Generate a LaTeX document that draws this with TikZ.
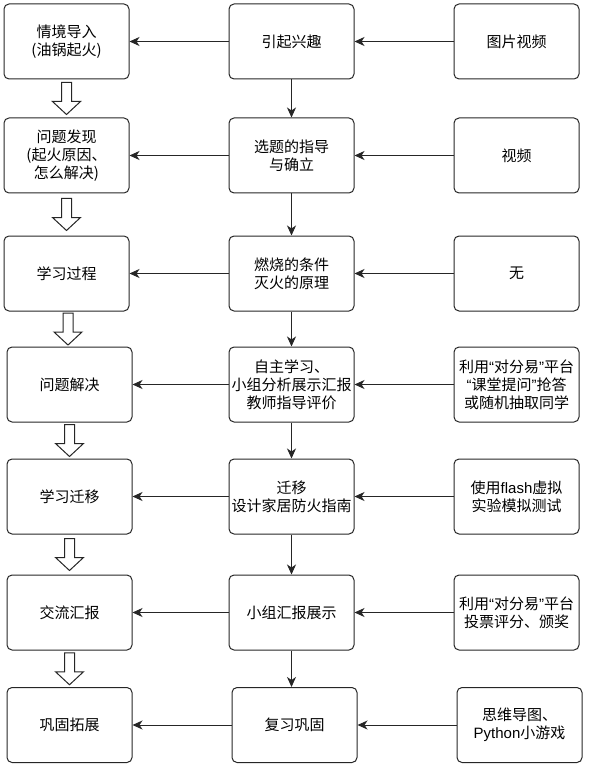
\documentclass[tikz,border=0pt]{standalone}
\usepackage{fontspec}
\setmainfont{Noto Sans CJK SC}
\newfontfamily\latin{Liberation Sans}
\usepackage{tikz}
\usetikzlibrary{calc, arrows.meta, positioning}

\begin{document}
\begin{tikzpicture}[
        x=1pt, y=-1pt,
        box/.style={rectangle, draw=black!85, line width=1pt, rounded corners=5pt, minimum height=75pt, minimum width=125pt, font=\fontsize{15}{18}\selectfont, align=center, inner sep=1pt},
        arrow/.style={-{Stealth[length=10pt, width=9pt, inset=3pt]}, line width=1pt, draw=black!85},
        blockarrow/.style={draw=black!85, line width=1pt, fill=white, line join=miter}
    ]
        \useasboundingbox (0,0) rectangle (589,767);

        % Left column
        \node[box] (intro) at (66.5,41.5) {情境导入\\(油锅起火)};
        \node[box] (discover) at (66.5,155.5) {问题发现\\(起火原因、\\怎么解决)};
        \node[box] (process) at (66.5,273.5) {学习过程};
        \node[box] (solve) at (69.5,384.5) {问题解决};
        \node[box] (transfer) at (69.5,496.5) {学习迁移};
        \node[box] (report) at (69.5,612.5) {交流汇报};
        \node[box] (extend) at (69.5,725) {巩固拓展};

        % Middle column
        \node[box] (interest) at (291.5,41.5) {引起兴趣};
        \node[box] (topic) at (291.5,155.5) {选题的指导\\与确立};
        \node[box] (theory) at (291.5,273.5) {燃烧的条件\\灭火的原理};
        \node[box] (explore) at (291.5,384.5) {自主学习、\\小组分析展示汇报\\教师指导评价};
        \node[box] (design) at (291.5,496.5) {迁移\\设计家居防火指南};
        \node[box] (present) at (291.5,612.5) {小组汇报展示};
        \node[box] (review) at (294.5,725) {复习巩固};

        % Right column
        \node[box] (pics) at (516.5,41.5) {图片视频};
        \node[box] (video) at (516.5,155.5) {视频};
        \node[box] (nothing) at (516.5,273.5) {无};
        \node[box] (platform) at (516.5,384.5) {利用{\latin “}对分易{\latin ”}平台\\{\latin “}课堂提问{\latin ”}抢答\\或随机抽取同学};
        \node[box] (flash) at (516.5,496.5) {使用{\latin flash}虚拟\\实验模拟测试};
        \node[box] (vote) at (516.5,612.5) {利用{\latin “}对分易{\latin ”}平台\\投票评分、颁奖};
        \node[box] (game) at (519.5,725) {思维导图、\\{\latin Python}小游戏};

        % Arrows
        \foreach \a/\b in {interest/intro, topic/discover, theory/process, explore/solve, design/transfer, present/report, review/extend,
                           pics/interest, video/topic, nothing/theory, platform/explore, flash/design, vote/present, game/review}
            \draw[arrow] (\a) -- (\b);
        \foreach \a/\b in {interest/topic, topic/theory, theory/explore, explore/design, design/present, present/review}
            \draw[arrow] (\a.south) -- (\a.south |- \b.north);

        % Block arrows
        \foreach \a/\b in {intro/discover, discover/process, process/solve, solve/transfer, transfer/report, report/extend}
            \draw[blockarrow] ($(\a.south)!0.5!(\b.north)$) ++(-5,-16) -- ++(10,0) -- ++(0,19) -- ++(9,0)
                -- ++(-14,13) -- ++(-14,-13) -- ++(9,0) -- cycle;
    \end{tikzpicture}
\end{document}
